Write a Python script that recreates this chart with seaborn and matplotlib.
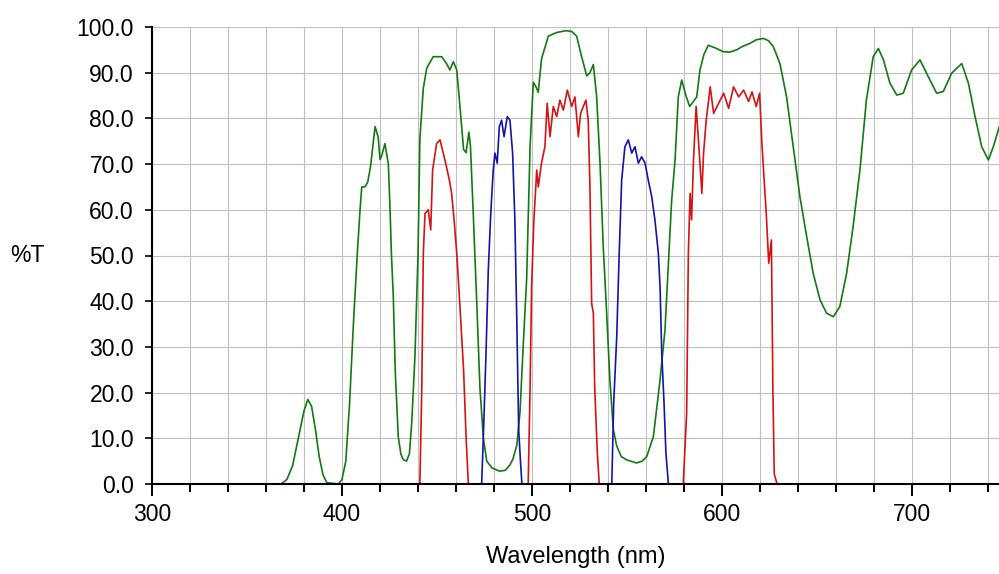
import matplotlib
matplotlib.use("Agg")
import matplotlib.pyplot as plt
from matplotlib.ticker import MultipleLocator, FormatStrFormatter
import seaborn as sns

# transmission spectra (wavelength nm, %T)
green_wl = [300, 368, 371, 374, 377, 380, 382, 384, 386, 388, 390, 392, 398, 400, 402, 404,
            406, 408, 409.5, 410.4, 412, 413.5, 415, 417.4, 419, 420, 421, 422.6, 424.4, 425.3,
            426, 427, 428, 429.6, 431, 432.3, 434, 435.5, 436.7, 438.4, 440, 441, 442.8, 444.6,
            448, 452.5, 455, 456.8, 458.6, 460.4, 462, 464, 465.3, 466.8, 467.6, 469, 470.9,
            472.6, 474.4, 476.2, 479, 483, 486, 488.4, 490, 492, 493.7, 495.4, 497.2, 499,
            500.7, 502, 503.3, 505, 508.6, 513, 518, 521, 523.5, 526, 528.8, 530.5, 532.3, 534,
            535.8, 537.5, 539.3, 541, 542.8, 544.6, 547, 549.8, 555, 558, 560.4, 563.9, 567.4,
            570, 571.8, 573.5, 575.3, 577, 578.8, 581, 583, 586.7, 588.4, 590.5, 592.8, 596,
            600.7, 604, 607.7, 611, 614.7, 618, 621.8, 624.5, 627, 630.5, 634, 637.5, 641,
            644.6, 648, 651.6, 655, 658.6, 662, 665.6, 669, 672.6, 676, 679.6, 682.3, 685,
            688.4, 692, 695.4, 699.8, 704.2, 708.6, 713, 716.5, 720.9, 726.2, 729.7, 733.2,
            736.7, 740.2, 742.8, 746]
green_t = [0, 0, 1, 4, 10, 16, 18.5, 17, 12, 6, 2, 0.3, 0, 1, 5, 17.7,
           35, 50, 60, 65, 65, 66, 69.4, 78.2, 76, 71, 72, 74.5, 70, 60,
           50.5, 41, 25, 10.4, 6.5, 5.3, 5, 6.7, 13.4, 28, 50, 75.6, 86.6, 91,
           93.5, 93.5, 92, 90.6, 92.4, 90.6, 83, 73.2, 72.5, 77, 74, 60, 40,
           21, 10, 5, 3.5, 2.8, 3, 4.2, 5.5, 8.5, 15.8, 30.4, 45, 74,
           87.9, 87, 85.7, 93, 98, 98.8, 99.2, 99, 98, 93.7, 89.3, 90, 91.8, 84.9,
           70.3, 52, 37.4, 22.8, 11.9, 8.3, 6, 5.3, 4.6, 5, 6, 10.4, 22.8,
           33.7, 48.3, 62, 70.9, 84.7, 88.4, 85, 82.6, 84.7, 90.6, 94, 96, 95.5,
           94.6, 94.5, 95, 95.8, 96.4, 97.2, 97.5, 97, 95.7, 92, 84.7, 73.8, 62.9,
           54.1, 46.1, 40.3, 37.4, 36.6, 38.8, 46.1, 56.3, 68.7, 84, 93.5, 95.3, 92.8,
           87.7, 85.1, 85.5, 90.6, 92.8, 89.1, 85.5, 85.9, 89.9, 92, 87.7, 80.4,
           73.8, 70.9, 73.8, 78.2]

red_wl = [300, 441, 442, 442.8, 443.7, 445.4, 446.7, 447.7, 449.8, 451.6, 453.3, 455, 456.5,
          457.7, 459, 460.4, 462, 464, 465.3, 466.5,
          498, 499, 499.8, 501, 502.5, 503.3, 505, 506.8, 508, 509.5, 511.2, 513, 514.7,
          516.5, 518.6, 520.9, 522.6, 524.4, 525.6, 527, 528.4, 529.6, 530.5, 531.4, 532.3,
          533, 534.4, 535.4,
          579.6, 581.4, 582.3, 583.2, 584, 585, 586.4, 587.6, 589.4, 590.3, 591.7, 593.8,
          595.6, 598.2, 600.9, 603.5, 606.1, 608.8, 611.4, 614, 615.8, 618, 619.8, 621,
          623.3, 624.6, 626, 626.8, 627.5, 629, 746]
red_t = [0, 0, 21, 50.5, 59.2, 60, 55.6, 68.7, 74.5, 75.3, 72.4, 69.4, 66.5,
         63.6, 57.8, 50.5, 39.5, 24.9, 10.4, 0,
         0, 21.3, 43.2, 57.8, 68.7, 65, 70.2, 73.8, 83.3, 76, 82.6, 80.4, 84,
         81.8, 86.2, 82.6, 84.7, 76, 81.1, 82.6, 84, 79.6, 65, 39.5, 37.4,
         21.3, 6.7, 0,
         0, 15.5, 50.5, 63.6, 57.8, 70.9, 82.6, 75.3, 63.6, 72.4, 79.6, 86.9,
         81.1, 83.3, 85.5, 82.2, 86.9, 84.7, 86.2, 83.7, 85.8, 82.6, 85.5, 74.5,
         59.2, 48.3, 53.4, 20.4, 2.2, 0, 0]

blue_wl = [300, 473.5, 474.4, 475.8, 477, 478.3, 479.6, 480.5, 481.7, 482.8, 484, 485.3,
           487, 488.4, 489.8, 491, 492, 493, 494, 494.7,
           542, 543, 544.6, 545.9, 547.2, 548.9, 550.7, 552.5, 554.2, 556, 557.7, 559.5,
           561.2, 563, 564.7, 566.5, 567.4, 568.3, 569.5, 570.5, 571.8, 746]
blue_t = [0, 0, 10.4, 28.6, 46.8, 59.2, 68.7, 72.4, 70.2, 78.2, 79.6, 76,
          80.4, 79.6, 72.4, 57.8, 35.9, 11.8, 4.6, 0,
          0, 17.7, 32.2, 50.5, 66.5, 73.8, 75.3, 72.4, 73.8, 70.2, 71.6, 70.2,
          66.5, 62.9, 57.8, 50.5, 43.2, 28.6, 17.7, 6.7, 0, 0]

sns.set_style("white")
plt.rcParams['font.family'] = ['Liberation Sans', 'DejaVu Sans']
plt.rcParams['text.color'] = 'black'
plt.rcParams['xtick.color'] = 'black'
plt.rcParams['ytick.color'] = 'black'
plt.rcParams['axes.labelcolor'] = 'black'

fig = plt.figure(figsize=(9.99, 5.74), dpi=100)
ax = fig.add_axes([152 / 999, 90 / 574, 847 / 999, 457 / 574])

for wl, t, col in [(green_wl, green_t, '#137a13'),
                   (red_wl, red_t, '#d41414'),
                   (blue_wl, blue_t, '#1414a8')]:
    sns.lineplot(x=wl, y=t, color=col, lw=1.2, sort=False, estimator=None, ax=ax)

ax.set_xlim(300, 745.8)
ax.set_ylim(0, 100)
ax.xaxis.set_major_locator(MultipleLocator(100))
ax.xaxis.set_minor_locator(MultipleLocator(20))
ax.yaxis.set_major_locator(MultipleLocator(10))
ax.yaxis.set_major_formatter(FormatStrFormatter('%.1f'))

ax.grid(True, which='minor', axis='x', color='#c0c0c0', lw=0.8)
ax.grid(True, which='major', axis='x', color='#c0c0c0', lw=0.8)
ax.grid(True, which='major', axis='y', color='#c0c0c0', lw=0.8)
ax.set_axisbelow(True)

for s in ['top', 'right']:
    ax.spines[s].set_visible(False)
for s in ['left', 'bottom']:
    ax.spines[s].set_color('black')
    ax.spines[s].set_linewidth(1.5)

ax.tick_params(axis='x', which='major', direction='out', length=8.6, width=1.4,
               pad=5, labelsize=16.5, bottom=True, colors='black')
ax.tick_params(axis='x', which='minor', direction='out', length=5.8, width=1.4,
               bottom=True, colors='black')
ax.tick_params(axis='y', which='major', direction='out', length=5, width=1.2,
               pad=8, labelsize=16.5, left=True, colors='black')

ax.set_xlabel('Wavelength (nm)', fontsize=17, va='center', color='black')
ax.xaxis.set_label_coords(0.5, -(557 - 484) / 457)
ax.set_ylabel('')
fig.text(27.5 / 999, 1 - 255 / 574, '%T', fontsize=16.5, ha='center', va='center',
         color='black')

fig.savefig('out.png', dpi=100, facecolor='white')
